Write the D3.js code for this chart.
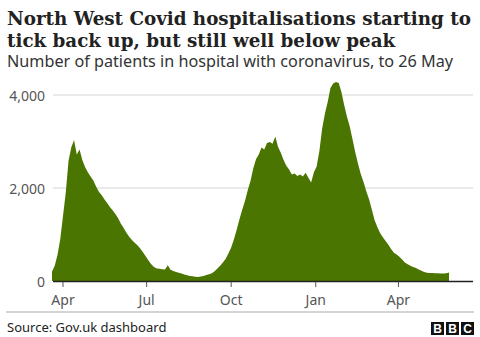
<!DOCTYPE html>
<html><head><meta charset="utf-8">
<script src="https://cdn.jsdelivr.net/npm/d3@7"></script>
<style>
body{margin:0;background:#fff;}
svg{display:block;}
</style></head>
<body>
<svg id="c" width="480" height="337"></svg>
<script>
// ---- data ----
const title = ["North West Covid hospitalisations starting to", "tick back up, but still well below peak"];
const subtitle = "Number of patients in hospital with coronavirus, to 26 May";
const source = "Source: Gov.uk dashboard";
const startDate = "2020-03-20"; // first reading, readings every 3 days to 26 May 2021
const stepDays = 3;
const patients = [
 200,330,560,900,1400,1900,2580,2870,3030,2720,2830,2600,2450,2340,2250,2160,2030,1920,1850,1760,
 1680,1590,1520,1440,1350,1230,1140,1040,950,880,820,770,700,620,530,440,360,300,270,265,
 255,250,340,240,215,195,178,160,140,125,108,100,92,86,95,110,128,145,168,210,
 270,330,400,480,590,720,900,1100,1330,1530,1720,1950,2150,2420,2620,2720,2870,2830,2970,2990,
 2950,3110,2880,2760,2600,2480,2400,2290,2310,2260,2290,2250,2330,2220,2120,2340,2460,2800,3280,3600,
 3850,4150,4250,4280,4260,4060,3780,3530,3320,3050,2770,2520,2300,2130,1930,1760,1540,1310,1160,1030,
 940,860,780,690,610,570,520,460,400,360,330,300,280,250,220,195,180,172,170,168,
 166,162,160,168,185
];
const yTicks = [0, 2000, 4000];
const xTickDates = ["2020-04-01","2020-07-01","2020-10-01","2021-01-01","2021-04-01"];
const xTickLabels = ["Apr","Jul","Oct","Jan","Apr"];

// ---- build ----
const parse = d3.utcParse("%Y-%m-%d");
const t0 = parse(startDate);
const rows = patients.map((v,i)=>({date: d3.utcDay.offset(t0, i*stepDays), value: v}));

const svg = d3.select("#c");
const x = d3.scaleUtc().domain([parse("2020-04-01"), parse("2021-05-26")]).range([63, 449]);
const y = d3.scaleLinear().domain([0, 4000]).range([281, 95]);
const left = 53, right = 473;

// title
const tt = svg.append("text").attr("font-family","'DejaVu Serif', serif").attr("font-weight","bold")
  .attr("font-size",18.3).attr("fill","#222");
title.forEach((l,i)=> tt.append("tspan").attr("x",7).attr("y",25+i*21.5).text(l));
svg.append("text").attr("x",7).attr("y",67).attr("font-family","'Noto Sans', sans-serif")
  .attr("font-size",16.2).attr("fill","#333").text(subtitle);

// grid
svg.append("g").selectAll("line").data(yTicks.filter(d=>d>0)).join("line")
  .attr("x1",left).attr("x2",right).attr("y1",d=>y(d)).attr("y2",d=>y(d))
  .attr("stroke","#d4d4d4").attr("stroke-width",1);
svg.append("g").selectAll("text").data(yTicks).join("text")
  .attr("x",45).attr("y",d=>y(d)+6).attr("text-anchor","end")
  .attr("font-family","'Noto Sans', sans-serif").attr("font-size",14).attr("fill","#555")
  .text(d=>d3.format(",")(d));

// area
const area = d3.area().x(d=>x(d.date)).y0(y(0)).y1(d=>y(d.value)).curve(d3.curveLinear);
svg.append("path").datum(rows).attr("d",area).attr("fill","#4a7500");

// x axis
svg.append("line").attr("x1",left).attr("x2",right).attr("y1",y(0)+0.5).attr("y2",y(0)+0.5)
  .attr("stroke","#222").attr("stroke-width",1.5);
const xt = xTickDates.map((d,i)=>({d:parse(d), l:xTickLabels[i]}));
svg.append("g").selectAll("line").data(xt).join("line")
  .attr("x1",d=>x(d.d)).attr("x2",d=>x(d.d)).attr("y1",y(0)+1).attr("y2",y(0)+6)
  .attr("stroke","#555").attr("stroke-width",1);
svg.append("g").selectAll("text").data(xt).join("text")
  .attr("x",d=>x(d.d)).attr("y",305).attr("text-anchor","middle")
  .attr("font-family","'Noto Sans', sans-serif").attr("font-size",14).attr("fill","#555")
  .text(d=>d.l);

// footer
svg.append("line").attr("x1",6).attr("x2",474).attr("y1",312).attr("y2",312).attr("stroke","#aaa").attr("stroke-width",1);
svg.append("text").attr("x",7).attr("y",332).attr("font-family","'Noto Sans', sans-serif")
  .attr("font-size",13).attr("fill","#222").text(source);
const logo = svg.append("g");
["B","B","C"].forEach((c,i)=>{
  const bx = 431 + i*15;
  logo.append("rect").attr("x",bx).attr("y",322).attr("width",13).attr("height",13).attr("fill","#111");
  logo.append("text").attr("x",bx+6.5).attr("y",333).attr("text-anchor","middle")
    .attr("font-family","'Liberation Sans', Arial, sans-serif").attr("font-weight","bold")
    .attr("font-size",12).attr("fill","#fff").text(c);
});
</script>
</body></html>
